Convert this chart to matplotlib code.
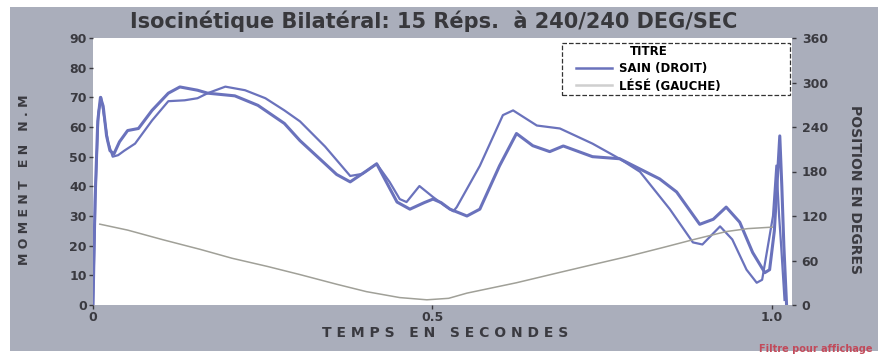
import matplotlib.pyplot as plt
from matplotlib.lines import Line2D
from matplotlib.patches import Rectangle

# moment curves (N.m), two reps
time_a = [0.0, 0.003, 0.007, 0.011, 0.015, 0.020, 0.025, 0.031, 0.039, 0.051, 0.067, 0.087,
          0.111, 0.128, 0.154, 0.169, 0.209, 0.243, 0.282, 0.305, 0.342, 0.359, 0.379, 0.403,
          0.418, 0.431, 0.448, 0.467, 0.488, 0.501, 0.513, 0.526, 0.551, 0.570, 0.599, 0.624,
          0.648, 0.673, 0.693, 0.736, 0.776, 0.835, 0.860, 0.894, 0.914, 0.933, 0.953, 0.972,
          0.990, 0.997, 1.004, 1.009, 1.012, 1.015, 1.018, 1.022]
moment_a = [0, 35, 62, 70, 67, 57, 52, 51, 55, 58.8, 59.5, 65.6,
            71.4, 73.5, 72.4, 71.4, 70.5, 67.3, 61.2, 55.4, 47.6, 44, 41.5, 45.2,
            47.6, 42, 34.7, 32.3, 34.5, 35.7, 34.5, 32.3, 30, 32.3, 46.9, 57.8,
            53.7, 51.7, 53.6, 50, 49.3, 42.5, 38.1, 27.2, 28.9, 33, 27.9, 17.7,
            10.9, 11.9, 25, 45, 57, 40, 20, 0]

time_b = [0.0, 0.004, 0.008, 0.012, 0.016, 0.022, 0.029, 0.037, 0.046, 0.062, 0.087, 0.111,
          0.135, 0.154, 0.169, 0.195, 0.224, 0.254, 0.282, 0.305, 0.342, 0.379, 0.397, 0.418,
          0.437, 0.452, 0.462, 0.481, 0.501, 0.518, 0.531, 0.536, 0.570, 0.604, 0.619, 0.654,
          0.688, 0.736, 0.776, 0.806, 0.850, 0.884, 0.898, 0.924, 0.942, 0.963, 0.978, 0.986,
          1.002, 1.007, 1.011, 1.014, 1.019]
moment_b = [0, 40, 65, 70, 64, 55, 50, 50.5, 52, 54.4, 62.2, 68.7,
            69, 69.7, 71.4, 73.6, 72.4, 69.7, 65.6, 61.9, 53.4, 43.5, 44.2, 47.6,
            41.5, 35.7, 34.7, 40.1, 36.4, 33.5, 31.6, 33, 46.9, 64, 65.6, 60.5,
            59.5, 54.4, 49.3, 44.9, 32.3, 21.1, 20.4, 26.5, 22.1, 11.9, 7.5, 8.5,
            30, 47, 30, 20, 1.7]

# position (degrees, right axis)
time_pos = [0.010, 0.051, 0.103, 0.158, 0.205, 0.257, 0.305, 0.359, 0.403, 0.452, 0.492, 0.524,
            0.551, 0.624, 0.688, 0.739, 0.786, 0.842, 0.884, 0.933, 0.965, 1.001]
position = [109, 101, 88, 75, 63, 52, 41, 28, 18, 10, 7, 9,
            16, 30, 44, 55, 65, 78, 88, 99, 103, 105]

left_ticks = [0, 10, 20, 30, 40, 50, 60, 70, 80, 90]
right_ticks = [0, 60, 120, 180, 240, 300, 360]
x_ticks = [0, 0.5, 1.0]
x_ticklabels = ['0', '0.5', '1.0']

blue = '#6a72bc'
pos_gray = '#a0a098'
panel = '#aaaebb'
ink = '#3a3a40'

fig = plt.figure(figsize=(8.79, 3.55), dpi=100, facecolor='white')
fig.patches.append(Rectangle((10 / 879, 4 / 355), 1, 344 / 355, transform=fig.transFigure,
                             facecolor=panel, edgecolor='none', zorder=-10))

ax = fig.add_axes([93 / 879, 1 - 305 / 355, 699 / 879, 267 / 355])
ax.set_facecolor('white')
ax.plot(time_a, moment_a, color=blue, lw=2.2)
ax.plot(time_b, moment_b, color=blue, lw=1.6)
ax.set_xlim(0, 1.03)
ax.set_ylim(0, 90)
ax.set_yticks(left_ticks)
ax.set_yticklabels([str(t) for t in left_ticks], fontsize=9, fontweight='bold', color=ink)
ax.set_xticks(x_ticks)
ax.set_xticklabels(x_ticklabels, fontsize=9, fontweight='bold', color=ink)
ax.tick_params(length=3, width=1, color=ink, pad=1.5)
for s in ax.spines.values():
  s.set_visible(False)

ax2 = ax.twinx()
ax2.plot(time_pos, position, color=pos_gray, lw=1.1)
ax2.set_ylim(0, 360)
ax2.set_yticks(right_ticks)
ax2.set_yticklabels([str(t) for t in right_ticks], fontsize=9, fontweight='bold', color=ink)
ax2.tick_params(length=3, width=1, color=ink, pad=4)
for s in ax2.spines.values():
  s.set_visible(False)

fig.text(434 / 879, 1 - 21 / 355, 'Isocinétique Bilatéral: 15 Réps.  à 240/240 DEG/SEC',
         ha='center', va='center', fontsize=15, fontweight='bold', color='#38383c')
fig.text(25 / 879, 1 - 180 / 355, 'M O M E N T   E N   N . M', rotation=90,
         ha='center', va='center', fontsize=9, fontweight='bold', color=ink)
fig.text(855 / 879, 1 - 190 / 355, 'POSITION EN DEGRES', rotation=-90,
         ha='center', va='center', fontsize=10, fontweight='bold', color=ink)
fig.text(445 / 879, 1 - 333 / 355, 'T E M P S   E N   S E C O N D E S',
         ha='center', va='center', fontsize=10, fontweight='bold', color=ink)
fig.text(759 / 879, 1 - 349 / 355, 'Filtre pour affichage', ha='left', va='center',
         fontsize=7, fontweight='bold', color='#c24a5a')

# legend box: dashed frame drawn wider than the legend content, like the scan
box = Rectangle((562 / 879, 1 - 95 / 355), 228 / 879, 52 / 355, transform=fig.transFigure,
                facecolor='white', edgecolor='#333333', linestyle='--', linewidth=0.9,
                clip_on=False, zorder=4)
ax2.add_patch(box)
handles = [Line2D([0], [0], color=blue, lw=1.8), Line2D([0], [0], color='#cfcfcf', lw=1.8)]
leg = ax2.legend(handles, ['SAIN (DROIT)', 'LÉSÉ (GAUCHE)'], title='TITRE',
                 loc='upper left', bbox_to_anchor=(574 / 879, 1 - 43 / 355),
                 bbox_transform=fig.transFigure, frameon=False,
                 title_fontproperties={'weight': 'bold', 'size': 8.5},
                 prop={'weight': 'bold', 'size': 8.5}, borderpad=0.2, labelspacing=0.35,
                 handlelength=3, handletextpad=0.6, borderaxespad=0)
leg.set_zorder(5)

plt.savefig('out.png', dpi=100, facecolor=fig.get_facecolor())
plt.close()
